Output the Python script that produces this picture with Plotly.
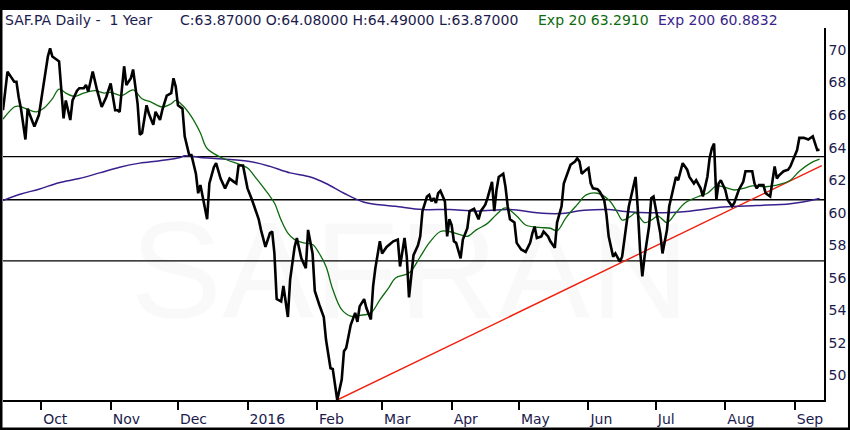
import pandas as pd
import plotly.graph_objects as go

# chart window starts here, x values below are day offsets from it
start = pd.Timestamp("2015-09-14")

price_day = [0, 2, 5, 6, 7, 8, 10, 11, 12, 14, 16, 17, 18, 20, 21, 22, 24, 25, 27, 28,
             30, 31, 33, 34, 36, 37, 38, 40, 42, 44, 46, 48, 50, 51, 52, 54, 55, 57, 58, 60,
             61, 62, 64, 65, 67, 68, 70, 71, 73, 75, 76, 77, 78, 80, 81, 83, 84, 86, 87, 88,
             89, 91, 92, 94, 95, 97, 99, 101, 103, 104, 105, 107, 109, 111, 114, 115, 117, 119, 120, 121,
             122, 124, 125, 127, 128, 130, 131, 132, 133, 135, 136, 138, 139, 141, 143, 144, 146, 147, 149, 151,
             152, 153, 155, 157, 158, 159, 161, 162, 164, 165, 166, 168, 169, 171, 173, 174, 176, 177, 179, 180,
             181, 183, 185, 186, 187, 189, 190, 191, 192, 193, 194, 195, 197, 198, 199, 200, 201, 202, 204, 205,
             207, 208, 210, 212, 213, 215, 216, 218, 219, 220, 221, 223, 224, 225, 226, 228, 229, 231, 233, 235,
             236, 237, 238, 240, 241, 243, 244, 246, 247, 249, 250, 252, 253, 255, 256, 257, 258, 260, 261, 262,
             263, 265, 266, 268, 269, 270, 272, 273, 275, 276, 278, 279, 280, 282, 283, 284, 285, 286, 288, 289,
             290, 291, 293, 294, 296, 297, 299, 300, 301, 303, 305, 306, 308, 309, 311, 312, 314, 315, 316, 317,
             318, 319, 320, 322, 323, 325, 326, 328, 330, 331, 334, 335, 336, 337, 339, 340, 342, 343, 344, 345,
             346, 348, 350, 351, 352, 354, 355, 357, 359, 361, 363, 364]
price = [66.3, 68.67, 68.05, 68.05, 67.1, 66.4, 64.5, 66.4, 66.0, 65.3, 66.0, 66.9, 67.5, 69.6, 70.1, 69.6, 69.4, 69.3, 65.8, 66.9,
         65.7, 66.9, 67.5, 67.65, 67.65, 67.85, 67.45, 68.67, 67.5, 66.5, 67.1, 67.95, 66.3, 66.3, 66.2, 69.0, 67.85, 68.26, 68.8, 66.7,
         64.8, 64.9, 66.6, 66.1, 65.4, 66.2, 65.7, 66.3, 67.2, 67.35, 68.26, 67.75, 66.6, 66.4, 64.7, 63.55, 63.55, 62.4, 61.2, 61.7,
         61.0, 59.6, 61.8, 62.8, 63.05, 62.1, 61.5, 62.1, 61.9, 61.8, 62.9, 62.9, 61.5, 60.8, 59.6, 58.95, 57.9, 58.75, 58.85, 57.5,
         54.7, 54.55, 55.5, 53.6, 55.9, 57.9, 58.45, 57.9, 57.2, 56.6, 58.95, 57.5, 55.2, 54.35, 53.6, 52.2, 50.45, 50.4, 48.5, 49.75,
         51.5, 51.7, 53.1, 53.85, 53.3, 54.25, 54.7, 54.15, 53.45, 55.5, 56.6, 58.25, 57.5, 57.9, 58.1, 58.25, 58.35, 56.7, 58.45, 57.3,
         54.8, 57.4, 58.0, 58.55, 60.1, 61.0, 61.1, 60.7, 60.9, 60.6, 61.2, 61.35, 60.7, 58.55, 59.6, 59.25, 58.25, 58.15, 57.2, 58.35,
         59.05, 60.1, 60.25, 59.6, 60.1, 60.5, 60.9, 61.9, 60.1, 61.4, 62.2, 62.4, 61.6, 60.4, 59.6, 59.4, 58.15, 57.75, 57.6, 58.15,
         58.75, 59.15, 58.45, 58.55, 58.85, 58.55, 58.25, 57.85, 59.4, 60.4, 61.8, 62.65, 62.95, 63.15, 63.35, 63.15, 62.4, 62.65, 62.75, 61.8,
         61.5, 61.45, 61.3, 60.8, 59.9, 58.55, 57.3, 57.5, 57.0, 57.3, 59.4, 60.4, 61.0, 62.2, 60.2, 57.7, 56.1, 57.3, 59.15, 60.9,
         61.0, 60.3, 58.75, 57.5, 58.95, 60.4, 61.6, 62.2, 62.0, 63.05, 62.65, 62.2, 61.8, 62.0, 61.5, 61.0, 62.2, 63.35, 63.95, 64.25,
         60.8, 61.8, 62.0, 61.4, 60.8, 60.4, 60.6, 61.4, 61.9, 62.55, 62.55, 61.8, 61.5, 61.7, 61.7, 61.2, 61.0, 62.0, 62.85, 62.1,
         62.3, 62.55, 62.65, 62.85, 63.15, 63.85, 64.6, 64.6, 64.5, 64.7, 63.85, 63.87]

ema20_day = [0, 5, 7, 11, 15, 18, 22, 25, 28, 32, 36, 41, 45, 48, 53, 58, 62, 66, 71, 75,
             77, 80, 84, 88, 91, 98, 106, 109, 113, 118, 121, 124, 127, 130, 134, 138, 141, 144, 147, 151,
             155, 159, 164, 168, 172, 175, 181, 186, 190, 195, 199, 204, 207, 211, 216, 220, 224, 229, 233, 239,
             244, 247, 251, 256, 260, 265, 270, 274, 276, 280, 282, 286, 289, 292, 296, 300, 304, 310, 314, 318,
             321, 326, 330, 334, 340, 345, 351, 355, 360, 364]
ema20 = [65.75, 66.5, 66.55, 66.35, 66.2, 66.4, 67.0, 67.6, 67.35, 67.15, 67.35, 67.5, 67.35, 67.4, 67.2, 67.55, 67.0, 66.8, 66.5, 66.7,
         66.9, 66.6, 65.9, 64.9, 63.95, 63.35, 62.95, 62.75, 62.1, 61.2, 60.6, 59.55, 58.75, 58.35, 58.15, 58.05, 57.5, 56.7, 55.3, 54.05,
         53.65, 53.7, 53.85, 54.65, 55.4, 56.0, 56.3, 57.3, 58.15, 58.85, 58.85, 58.65, 58.55, 58.95, 59.35, 59.9, 60.3, 59.8, 59.25, 59.1,
         59.05, 58.9, 59.7, 60.5, 61.1, 61.2, 60.8, 60.0, 59.55, 59.8, 60.0, 59.4, 59.55, 59.8, 59.4, 60.0, 60.6, 61.0, 61.2, 61.65,
         61.6, 61.4, 61.5, 61.65, 61.6, 61.7, 62.0, 62.55, 63.05, 63.29]

ema200_day = [0, 8, 16, 25, 34, 43, 52, 61, 70, 79, 81, 88, 98, 110, 119, 128, 137, 144, 152, 161,
              171, 175, 187, 199, 211, 226, 238, 248, 259, 270, 276, 291, 306, 321, 336, 351, 364]
ema200 = [60.75, 61.15, 61.45, 61.85, 62.1, 62.45, 62.8, 63.05, 63.2, 63.4, 63.5, 63.4, 63.3, 63.15, 62.85, 62.45, 62.2, 61.8, 61.2, 60.65,
          60.45, 60.4, 60.2, 60.2, 60.1, 60.2, 60.0, 59.95, 60.15, 60.2, 60.1, 60.0, 60.1, 60.35, 60.45, 60.55, 60.88]

trend_day = [149, 365]
trend = [48.5, 62.9]

levels = [63.45, 60.8, 57.05]

month_ticks = ["2015-10-01", "2015-11-01", "2015-12-01", "2016-01-01", "2016-02-01", "2016-03-01",
               "2016-04-01", "2016-05-01", "2016-06-01", "2016-07-01", "2016-08-01", "2016-09-01"]
month_labels = ["Oct", "Nov", "Dec", "2016", "Feb", "Mar", "Apr", "May", "Jun", "Jul", "Aug", "Sep"]
y_ticks = list(range(50, 71, 2))


def to_dates(days):
    return start + pd.to_timedelta(days, unit="D")


navy = "#1b1b4d"
font = "DejaVu Sans"

fig = go.Figure()
fig.add_trace(go.Scatter(x=to_dates(trend_day), y=trend, mode="lines",
                         line=dict(color="#f0200f", width=1.4)))
fig.add_trace(go.Scatter(x=to_dates(ema200_day), y=ema200, mode="lines",
                         line=dict(color="#3a1f8c", width=1.5, shape="spline")))
fig.add_trace(go.Scatter(x=to_dates(ema20_day), y=ema20, mode="lines",
                         line=dict(color="#0d6b0d", width=1.3, shape="spline")))
fig.add_trace(go.Scatter(x=to_dates(price_day), y=price, mode="lines",
                         line=dict(color="black", width=2.6)))

# white card on a black paper gives the frame
shapes = [dict(type="rect", xref="paper", yref="paper", x0=-0.0006, x1=1.0292, y0=-0.0739, y1=1.0484,
               fillcolor="white", line=dict(width=0), layer="below")]
for lv in levels:
    shapes.append(dict(type="line", xref="paper", yref="y", x0=0, x1=1, y0=lv, y1=lv,
                       line=dict(color="black", width=1.3), layer="below"))

title_y = 1.0215
annotations = [
    dict(text="SAFRAN", xref="paper", yref="paper", x=0.496, y=0.35, showarrow=False,
         font=dict(family="Liberation Sans", size=138, color="rgba(0,0,0,0.025)")),
    dict(text="SAF.PA Daily -\u00a0\u00a01 Year", xref="paper", yref="paper", x=0.0, y=title_y,
         xanchor="left", yanchor="middle", showarrow=False, font=dict(family=font, size=14, color=navy)),
    dict(text="C:63.87000 O:64.08000 H:64.49000 L:63.87000", xref="paper", yref="paper", x=0.2132, y=title_y,
         xanchor="left", yanchor="middle", showarrow=False, font=dict(family=font, size=14, color=navy)),
    dict(text="Exp 20 63.2910", xref="paper", yref="paper", x=0.6492, y=title_y,
         xanchor="left", yanchor="middle", showarrow=False, font=dict(family=font, size=14, color="#0d6b0d")),
    dict(text="Exp 200 60.8832", xref="paper", yref="paper", x=0.7954, y=title_y,
         xanchor="left", yanchor="middle", showarrow=False, font=dict(family=font, size=14, color="#3a1f8c")),
]

fig.update_layout(
    width=850, height=430,
    margin=dict(l=3, r=26, t=28, b=30),
    paper_bgcolor="black", plot_bgcolor="white",
    showlegend=False,
    shapes=shapes, annotations=annotations,
    xaxis=dict(range=["2015-09-14", "2016-09-14"], tickvals=month_ticks, ticktext=month_labels,
               ticks="outside", ticklen=8, tickwidth=2, tickcolor="black",
               ticklabelposition="outside right", ticklabelstandoff=5,
               showgrid=False, zeroline=False, showline=True, linecolor="black", linewidth=2,
               tickfont=dict(family=font, size=14, color=navy)),
    yaxis=dict(range=[48.5, 71.35], side="right", tickvals=y_ticks, ticks="",
               showgrid=False, zeroline=False, showline=True, linecolor="black", linewidth=1.5,
               tickfont=dict(family=font, size=14, color=navy)),
)

# page body has a default margin, drop it so the figure sits at the window corner
fig.write_html("out.html", config={"displayModeBar": False},
               post_script="document.body.style.margin = '0';")
